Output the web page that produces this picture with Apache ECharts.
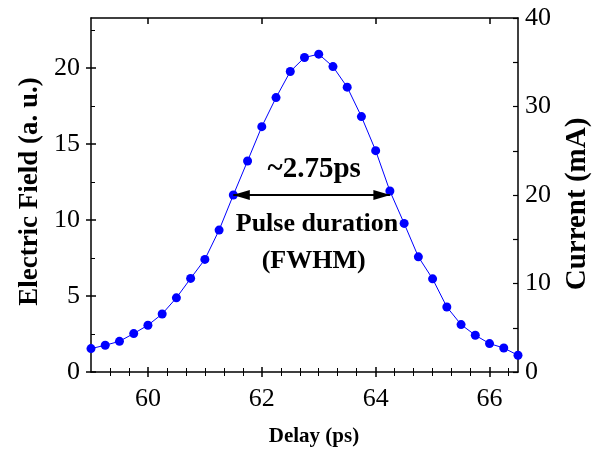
<!DOCTYPE html>
<html>
<head>
<meta charset="utf-8">
<script src="https://cdn.jsdelivr.net/npm/echarts@6/dist/echarts.min.js"></script>
<style>
  html, body { margin: 0; padding: 0; background: #fff; }
  #chart { width: 596px; height: 453px; }
</style>
</head>
<body>
<div id="chart"></div>
<script>
// Terahertz pulse: electric field versus delay
const delay = [59, 59.25, 59.5, 59.75, 60, 60.25, 60.5, 60.75, 61, 61.25, 61.5, 61.75,
  62, 62.25, 62.5, 62.75, 63, 63.25, 63.5, 63.75, 64, 64.25, 64.5, 64.75,
  65, 65.25, 65.5, 65.75, 66, 66.25, 66.5];
const field = [1.54, 1.76, 2.02, 2.53, 3.08, 3.82, 4.88, 6.16, 7.41, 9.34, 11.65, 13.89,
  16.15, 18.06, 19.78, 20.70, 20.92, 20.10, 18.75, 16.81, 14.57, 11.91, 9.78, 7.58,
  6.13, 4.28, 3.12, 2.42, 1.87, 1.58, 1.10];

// FWHM markers (delay of the two half-maximum points and their level)
const fwhmStart = 61.5;
const fwhmEnd = 64.25;
const fwhmLevel = 11.65;

// axis ticks and labels
const xMajor = [60, 62, 64, 66];
const xMinor = [59.333, 59.667, 60.333, 60.667, 61, 61.333, 61.667, 62.333, 62.667, 63,
  63.333, 63.667, 64.333, 64.667, 65, 65.333, 65.667, 66.333];
const yMajor = [0, 5, 10, 15, 20];
const yMinor = [2.5, 7.5, 12.5, 17.5, 22.5];
const rightTicks = [0, 5, 10, 15, 20, 25, 30, 35, 40];
const rightLabels = [0, 10, 20, 30, 40];

const X_MIN = 59, X_MAX = 66.5;
const Y_MIN = 0, Y_MAX = 23.3;
const I_MIN = 0, I_MAX = 40;

const serif = 'Liberation Serif';
const black = '#000';

function xAx(extra) {
  return Object.assign({
    type: 'value', min: X_MIN, max: X_MAX, position: 'bottom',
    splitLine: { show: false },
    axisLine: { show: false },
    axisLabel: { show: false },
    axisTick: { show: false }
  }, extra);
}
function yAx(extra, lo, hi) {
  return Object.assign({
    type: 'value', min: lo, max: hi, position: 'left',
    splitLine: { show: false },
    axisLine: { show: false },
    axisLabel: { show: false },
    axisTick: { show: false }
  }, extra);
}

const chart = echarts.init(document.getElementById('chart'), null, { renderer: 'canvas' });

chart.setOption({
  animation: false,
  backgroundColor: '#fff',
  grid: { left: 91, top: 18, width: 427, height: 354, containLabel: false, outerBoundsMode: 'none' },
  xAxis: [
    xAx({
      name: 'Delay (ps)',
      nameLocation: 'middle',
      nameGap: 54,
      nameTextStyle: { fontFamily: serif, fontWeight: 'bold', fontSize: 21, color: black, padding: [0, 0, 0, 19] },
      axisLine: { show: true, onZero: false, lineStyle: { color: black, width: 1.5 } },
      axisLabel: { show: true, customValues: xMajor, fontFamily: serif, fontSize: 26, color: black, margin: 14 },
      axisTick: { show: true, customValues: xMajor, inside: false, length: 5, lineStyle: { color: black, width: 1.5 } }
    }),
    xAx({ axisTick: { show: true, customValues: xMajor, inside: true, length: 5, lineStyle: { color: black, width: 1.5 } } }),
    xAx({ axisTick: { show: true, customValues: xMinor, inside: true, length: 4, lineStyle: { color: black, width: 1 } } }),
    xAx({
      position: 'top',
      axisLine: { show: true, onZero: false, lineStyle: { color: black, width: 1.5 } },
      axisTick: { show: true, customValues: xMajor, inside: true, length: 6, lineStyle: { color: black, width: 1.5 } }
    }),
    xAx({ position: 'top', axisTick: { show: true, customValues: xMinor, inside: true, length: 4, lineStyle: { color: black, width: 1 } } })
  ],
  yAxis: [
    yAx({
      name: 'Electric Field (a. u.)',
      nameLocation: 'middle',
      nameGap: 44,
      nameRotate: 90,
      nameTextStyle: { fontFamily: serif, fontWeight: 'bold', fontSize: 27, color: black, padding: [0, 0, 0, 7] },
      axisLine: { show: true, onZero: false, lineStyle: { color: black, width: 1.5 } },
      axisLabel: { show: true, customValues: yMajor, fontFamily: serif, fontSize: 26, color: black, margin: 11 },
      axisTick: { show: true, customValues: yMajor, inside: false, length: 5, lineStyle: { color: black, width: 1.5 } }
    }, Y_MIN, Y_MAX),
    yAx({ axisTick: { show: true, customValues: yMajor, inside: true, length: 5, lineStyle: { color: black, width: 1.5 } } }, Y_MIN, Y_MAX),
    yAx({ axisTick: { show: true, customValues: yMinor, inside: true, length: 4, lineStyle: { color: black, width: 1 } } }, Y_MIN, Y_MAX),
    yAx({
      position: 'right',
      name: 'Current (mA)',
      nameLocation: 'middle',
      nameGap: 45,
      nameRotate: 90,
      nameTextStyle: { fontFamily: serif, fontWeight: 'bold', fontSize: 29, color: black, padding: [0, 18, 0, 0] },
      axisLine: { show: true, onZero: false, lineStyle: { color: black, width: 1.5 } },
      axisLabel: { show: true, customValues: rightLabels, fontFamily: serif, fontSize: 26, color: black, margin: 7 },
      axisTick: { show: true, customValues: rightTicks, inside: true, length: 5, lineStyle: { color: black, width: 1.2 } }
    }, I_MIN, I_MAX)
  ],
  series: [{
    type: 'line',
    xAxisIndex: 0,
    yAxisIndex: 0,
    data: delay.map((d, i) => [d, field[i]]),
    symbol: 'circle',
    symbolSize: 9,
    showAllSymbol: true,
    clip: false,
    lineStyle: { color: '#0000ff', width: 1 },
    itemStyle: { color: '#0000ff' },
    z: 3,
    markLine: {
      silent: true,
      symbol: ['triangle', 'triangle'],
      symbolSize: [10, 17],
      symbolOffset: [[0, 8], [0, 8]],
      label: { show: false },
      lineStyle: { color: black, width: 2, type: 'solid' },
      itemStyle: { color: black },
      data: [[{ coord: [fwhmStart, fwhmLevel] }, { coord: [fwhmEnd, fwhmLevel] }]]
    },
    markPoint: {
      silent: true,
      symbol: 'circle',
      symbolSize: 0,
      label: {
        show: true, position: 'inside', color: black, fontFamily: serif, fontWeight: 'bold'
      },
      data: [
        { coord: [62.92, 13.3], label: { formatter: '~' + (fwhmEnd - fwhmStart).toFixed(2) + 'ps', fontSize: 29 } },
        { coord: [62.97, 9.7], label: { formatter: 'Pulse duration', fontSize: 26 } },
        { coord: [62.91, 7.3], label: { formatter: '(FWHM)', fontSize: 26 } }
      ]
    }
  }]
});
</script>
</body>
</html>
